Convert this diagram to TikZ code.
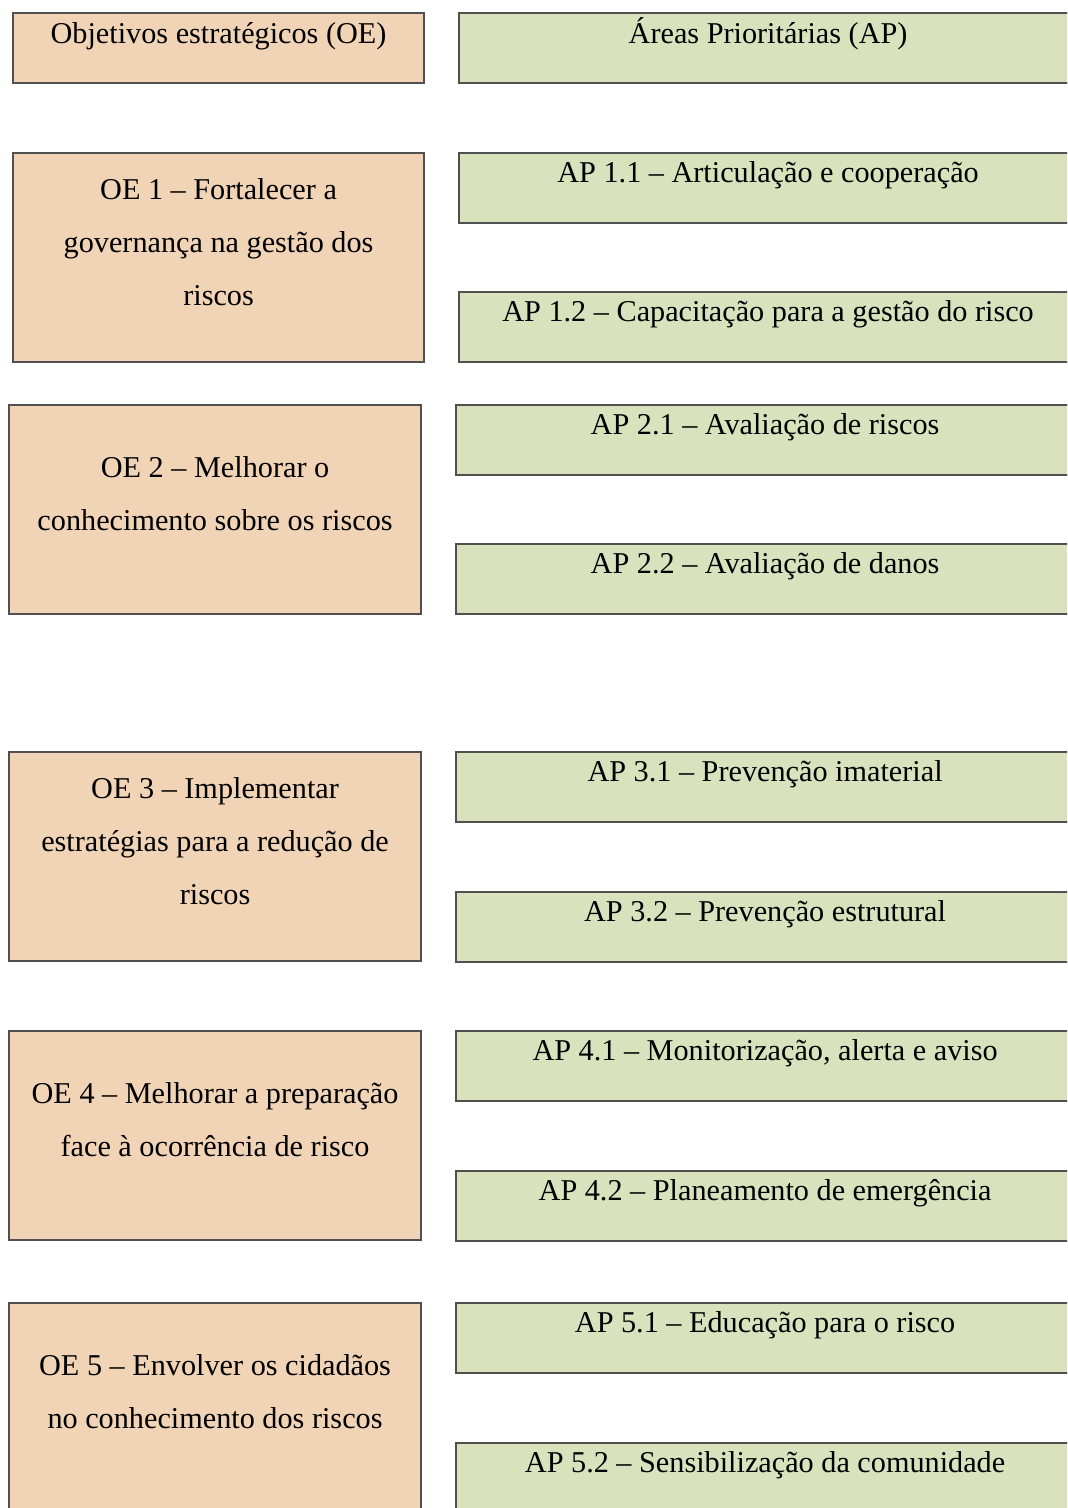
\documentclass[tikz,border=0pt]{standalone}
\usepackage{fontspec}
\setmainfont{Liberation Serif}
\usetikzlibrary{calc}
\definecolor{oefill}{RGB}{241,212,181}
\definecolor{apfill}{RGB}{217,225,189}
\definecolor{boxline}{RGB}{80,80,80}
\begin{document}
\begin{tikzpicture}[x=0.025cm,y=-0.025cm,
    box/.style={draw=boxline,line width=1pt,inner sep=0pt,outer sep=0pt,anchor=north west},
    oehead/.style={box,fill=oefill,minimum width=10.275cm,minimum height=1.75cm},
    oebox/.style={box,fill=oefill,minimum width=10.3cm,minimum height=5.225cm},
    apbox/.style={box,fill=apfill,minimum width=15.45cm,minimum height=1.75cm},
    txt/.style={font=\fontsize{21.5}{37.7}\selectfont,inner sep=0pt,align=center}]
  \useasboundingbox (0,0) rectangle (1067,1508);
  \clip (0,0) rectangle (1067,1508);
  % headers
  \node[oehead] (oeh) at (13,13) {};
  \node[apbox] (aph) at (459,13) {};
  \node[txt,anchor=base] (oeht) at ($(oeh.north)+(0,30)$) {Objetivos estratégicos (OE)};
  \node[txt,anchor=base] (apht) at ($(aph.north)+(0,30)$) {Áreas Prioritárias (AP)};
  % OE 1
  \node[oebox,minimum width=10.275cm] (oe1) at (13,153) {};
  \node[apbox] (ap11) at (459,153) {};
  \node[apbox] (ap12) at (459,292) {};
  \node[txt] (oe1t) at ($(oe1.north)+(0,88.5)$) {\strut OE 1 – Fortalecer a\\\strut governança na gestão dos\\\strut riscos};
  \node[txt,anchor=base] (ap11t) at ($(ap11.north)+(0,29)$) {AP 1.1 – Articulação e cooperação};
  \node[txt,anchor=base] (ap12t) at ($(ap12.north)+(0,29)$) {AP 1.2 – Capacitação para a gestão do risco};
  % OE 2
  \node[oebox] (oe2) at (9,405) {};
  \node[apbox] (ap21) at (456,405) {};
  \node[apbox] (ap22) at (456,544) {};
  \node[txt] (oe2t) at ($(oe2.north)+(0,88.5)$) {\strut OE 2 – Melhorar o\\\strut conhecimento sobre os riscos};
  \node[txt,anchor=base] (ap21t) at ($(ap21.north)+(0,29)$) {AP 2.1 – Avaliação de riscos};
  \node[txt,anchor=base] (ap22t) at ($(ap22.north)+(0,29)$) {AP 2.2 – Avaliação de danos};
  % OE 3
  \node[oebox] (oe3) at (9,752) {};
  \node[apbox] (ap31) at (456,752) {};
  \node[apbox] (ap32) at (456,892) {};
  \node[txt] (oe3t) at ($(oe3.north)+(0,88.5)$) {\strut OE 3 – Implementar\\\strut estratégias para a redução de\\\strut riscos};
  \node[txt,anchor=base] (ap31t) at ($(ap31.north)+(0,29)$) {AP 3.1 – Prevenção imaterial};
  \node[txt,anchor=base] (ap32t) at ($(ap32.north)+(0,29)$) {AP 3.2 – Prevenção estrutural};
  % OE 4
  \node[oebox] (oe4) at (9,1031) {};
  \node[apbox] (ap41) at (456,1031) {};
  \node[apbox] (ap42) at (456,1171) {};
  \node[txt] (oe4t) at ($(oe4.north)+(0,88.5)$) {\strut OE 4 – Melhorar a preparação\\\strut face à ocorrência de risco};
  \node[txt,anchor=base] (ap41t) at ($(ap41.north)+(0,29)$) {AP 4.1 – Monitorização, alerta e aviso};
  \node[txt,anchor=base] (ap42t) at ($(ap42.north)+(0,29)$) {AP 4.2 – Planeamento de emergência};
  % OE 5
  \node[oebox] (oe5) at (9,1303) {};
  \node[apbox] (ap51) at (456,1303) {};
  \node[apbox] (ap52) at (456,1443) {};
  \node[txt] (oe5t) at ($(oe5.north)+(0,88.5)$) {\strut OE 5 – Envolver os cidadãos\\\strut no conhecimento dos riscos};
  \node[txt,anchor=base] (ap51t) at ($(ap51.north)+(0,29)$) {AP 5.1 – Educação para o risco};
  \node[txt,anchor=base] (ap52t) at ($(ap52.north)+(0,29)$) {AP 5.2 – Sensibilização da comunidade};
\end{tikzpicture}
\end{document}
